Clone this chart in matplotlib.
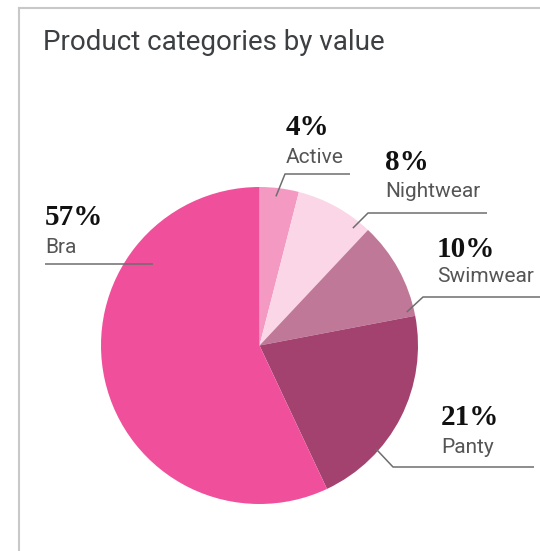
import numpy as np
import matplotlib
matplotlib.use("Agg")
import matplotlib.pyplot as plt

# data
categories = ["Active", "Nightwear", "Swimwear", "Panty", "Bra"]
values = [4, 8, 10, 21, 57]
colors = ["#F49AC2", "#FAD6E7", "#C07898", "#A3426E", "#F0509B"]

W, H = 540, 551
fig = plt.figure(figsize=(W / 100, H / 100), dpi=100)
ax = fig.add_axes([0, 0, 1, 1])


def py(y):
    # pixel row (top-down) -> axes y
    return H - y


cx, cy, R = 259.5, 345.5, 158.5
wedges, _ = ax.pie(values, colors=colors, startangle=90, counterclock=False,
                   center=(cx, py(cy)), radius=R, frame=True)
ax.set_xlim(0, W)
ax.set_ylim(0, H)
ax.set_aspect("equal")
ax.axis("off")

# card frame (left + top)
ax.plot([19, 19], [py(8), 0], color="#c8c8c8", lw=1.5)
ax.plot([19, W], [py(8), py(8)], color="#c8c8c8", lw=1.5)

ax.text(43, py(50), "Product categories by value", fontsize=20,
        family="Roboto", color="#3c4043", va="baseline", ha="left")

# label layout: text x, pct baseline, name baseline, anchor angle (deg cw from top),
# anchor radius, elbow (x, y) or None, line end x
layout = {
    "Active":    (286, 135, 163, 6.3, 150, (285, 174), 350),
    "Nightwear": (385, 170, 197, 38.5, 150, (368, 213), 487),
    "Swimwear":  (437, 257, 282, 77.2, 151, (423, 297), 540),
    "Panty":     (441, 425, 453, 131.6, 156, (393, 467), 534),
    "Bra":       (45, 225, 253, 307.4, 134, None, 45),
}

total = sum(values)
for cat, val in zip(categories, values):
    tx, yp, yn, ang, r, elbow, xend = layout[cat]
    a = np.deg2rad(ang)
    axp, ayp = cx + r * np.sin(a), cy - r * np.cos(a)
    if elbow is None:
        xs, ys = [xend, axp], [ayp, ayp]
    else:
        xs = [axp, elbow[0], xend]
        ys = [ayp, elbow[1], elbow[1]]
    ax.plot(xs, [py(v) for v in ys], color="#6e6e6e", lw=1.1,
            solid_capstyle="butt")
    pct = round(100 * val / total)
    ax.text(tx, py(yp), f"{pct}%", fontsize=21, family="Liberation Serif",
            fontweight="bold", color="#111111", va="baseline", ha="left")
    ax.text(tx, py(yn), cat, fontsize=15, family="Roboto", color="#555555",
            va="baseline", ha="left")

fig.savefig("out.png", dpi=100)
